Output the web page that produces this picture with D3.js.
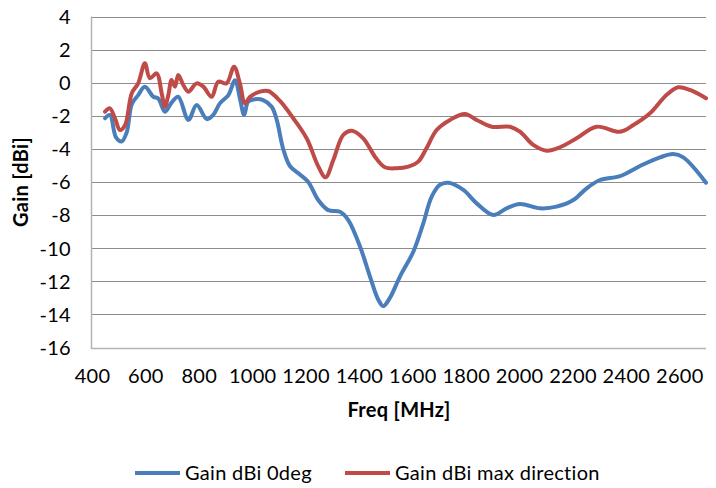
<!DOCTYPE html>
<html><head><meta charset="utf-8">
<script src="https://cdn.jsdelivr.net/npm/d3@7"></script>
<style>
html,body{margin:0;padding:0;background:#fff;}
svg{display:block;font-family:Lato,"Open Sans",sans-serif;}
</style></head>
<body><svg id="c" width="716" height="488"></svg>
<script>
// ---- data ----
const seriesNames = ["Gain dBi 0deg", "Gain dBi max direction"];
const freq0 = [449,467,490,511,530,549,573,598,630,648,673,698,723,761,792,830,854,879,911,936,954,970,985,1010,1041,1073,1092,1117,1142,1179,1210,1248,1285,1329,1360,1404,1441,1472,1491,1516,1554,1604,1641,1672,1703,1735,1791,1841,1903,1953,2003,2078,2140,2203,2253,2303,2378,2453,2528,2577,2615,2700];
const gain0 = [-2.15,-1.95,-3.3,-3.55,-3.0,-1.3,-0.75,-0.25,-0.85,-0.95,-1.75,-1.2,-0.85,-2.25,-1.35,-2.2,-1.95,-1.25,-0.75,0.15,-0.95,-1.95,-1.15,-1.0,-1.05,-1.45,-2.25,-4.05,-5.05,-5.55,-6.0,-7.1,-7.7,-7.8,-8.3,-9.9,-11.7,-13.1,-13.5,-13.0,-11.7,-10.2,-8.5,-6.9,-6.18,-6.05,-6.48,-7.29,-7.99,-7.59,-7.33,-7.59,-7.49,-7.09,-6.38,-5.88,-5.64,-5.03,-4.51,-4.31,-4.51,-6.04];
const freqMax = [449,467,486,505,524,549,573,598,617,642,661,673,686,698,711,723,742,761,792,817,848,873,904,932,954,973,992,1029,1060,1104,1154,1204,1248,1275,1304,1341,1373,1416,1460,1497,1541,1585,1622,1653,1691,1741,1797,1841,1897,1966,2003,2053,2103,2153,2215,2290,2378,2428,2490,2552,2596,2640,2700];
const gainMax = [-1.75,-1.55,-2.15,-2.86,-2.56,-0.64,-0.04,1.17,0.27,0.57,-0.64,-1.45,-0.74,0.16,-0.24,0.47,-0.14,-0.54,-0.04,-0.24,-0.85,0.06,-0.04,0.97,-0.04,-1.25,-0.85,-0.54,-0.5,-1.1,-2.15,-3.36,-5.07,-5.72,-4.67,-3.16,-2.9,-3.36,-4.47,-5.11,-5.17,-5.07,-4.77,-3.96,-2.86,-2.25,-1.89,-2.25,-2.66,-2.66,-2.96,-3.76,-4.11,-3.9,-3.36,-2.66,-2.96,-2.56,-1.85,-0.74,-0.28,-0.44,-0.94];
const xTicks = [400,600,800,1000,1200,1400,1600,1800,2000,2200,2400,2600];
const yTicks = [4,2,0,-2,-4,-6,-8,-10,-12,-14,-16];
const xTitle = "Freq [MHz]";
const yTitle = "Gain [dBi]";
const colors = ["#4a7ebb", "#be4b48"];

// ---- drawing ----
const svg = d3.select("#c");
const L = 92, R = 706, T = 16.5, B = 347.5;
const FS = 20, LS = "0.3px";
const x = d3.scaleLinear().domain([400, 2700]).range([L, R]);
const y = d3.scaleLinear().domain([-16, 4]).range([B, T]);

// gridlines
svg.append("g").selectAll("line").data(yTicks.filter(d => d !== -16)).join("line")
  .attr("x1", L).attr("x2", R)
  .attr("y1", d => Math.round(y(d)) + 0.5).attr("y2", d => Math.round(y(d)) + 0.5)
  .attr("stroke", "#8c8c8c").attr("stroke-width", 1);

// axes lines
svg.append("line").attr("x1", L - 0.5).attr("x2", L - 0.5).attr("y1", T).attr("y2", Math.round(B) + 1)
  .attr("stroke", "#b4b4b4").attr("stroke-width", 1.5);
svg.append("line").attr("x1", L - 1).attr("x2", R).attr("y1", Math.round(B) + 0.5).attr("y2", Math.round(B) + 0.5)
  .attr("stroke", "#b4b4b4").attr("stroke-width", 1.5);

// y tick labels
const yAxis = d3.axisLeft(y).tickValues(yTicks).tickSize(0).tickPadding(0).tickFormat(d3.format("d"));
const yg = svg.append("g").attr("transform", `translate(${L - 21},0)`).call(yAxis);
yg.select(".domain").remove();
yg.selectAll("text").attr("font-size", FS).attr("letter-spacing", LS).attr("fill", "#000").attr("font-family", "Lato, sans-serif").attr("dy", "0.34em").text(d => d < 0 ? "-" + Math.abs(d) : d);

// x tick labels
const xAxis = d3.axisBottom(x).tickValues(xTicks).tickSize(0).tickPadding(0).tickFormat(d3.format("d"));
const xg = svg.append("g").attr("transform", `translate(0,${B + 21})`).call(xAxis);
xg.select(".domain").remove();
xg.selectAll("text").attr("font-size", FS).attr("letter-spacing", LS).attr("fill", "#000").attr("font-family", "Lato, sans-serif").attr("dy", "0.72em");

// titles
svg.append("text").attr("x", (L + R) / 2).attr("y", 417).attr("text-anchor", "middle")
  .attr("font-size", FS).attr("letter-spacing", LS).attr("font-weight", "bold").text(xTitle);
svg.append("text").attr("transform", `translate(28,${(T + B) / 2}) rotate(-90)`).attr("text-anchor", "middle")
  .attr("font-size", FS).attr("letter-spacing", LS).attr("font-weight", "bold").text(yTitle);

// lines
const line = d3.line().x(d => x(d[0])).y(d => y(d[1])).curve(d3.curveCatmullRom.alpha(0.5));
const s0 = freq0.map((f, i) => [f, gain0[i]]);
const s1 = freqMax.map((f, i) => [f, gainMax[i]]);
[s0, s1].forEach((s, i) => {
  svg.append("path").datum(s).attr("d", line).attr("fill", "none")
    .attr("stroke", colors[i]).attr("stroke-width", 4).attr("stroke-linejoin", "round").attr("stroke-linecap", "round");
});

// legend
const leg = [{x1: 135, x2: 180, tx: 185}, {x1: 345, x2: 390, tx: 395}];
leg.forEach((l, i) => {
  svg.append("line").attr("x1", l.x1).attr("x2", l.x2).attr("y1", 473).attr("y2", 473)
    .attr("stroke", colors[i]).attr("stroke-width", 4);
  svg.append("text").attr("x", l.tx).attr("y", 473).attr("dy", "0.35em").attr("font-size", FS).attr("letter-spacing", LS).text(seriesNames[i]);
});
</script></body></html>
